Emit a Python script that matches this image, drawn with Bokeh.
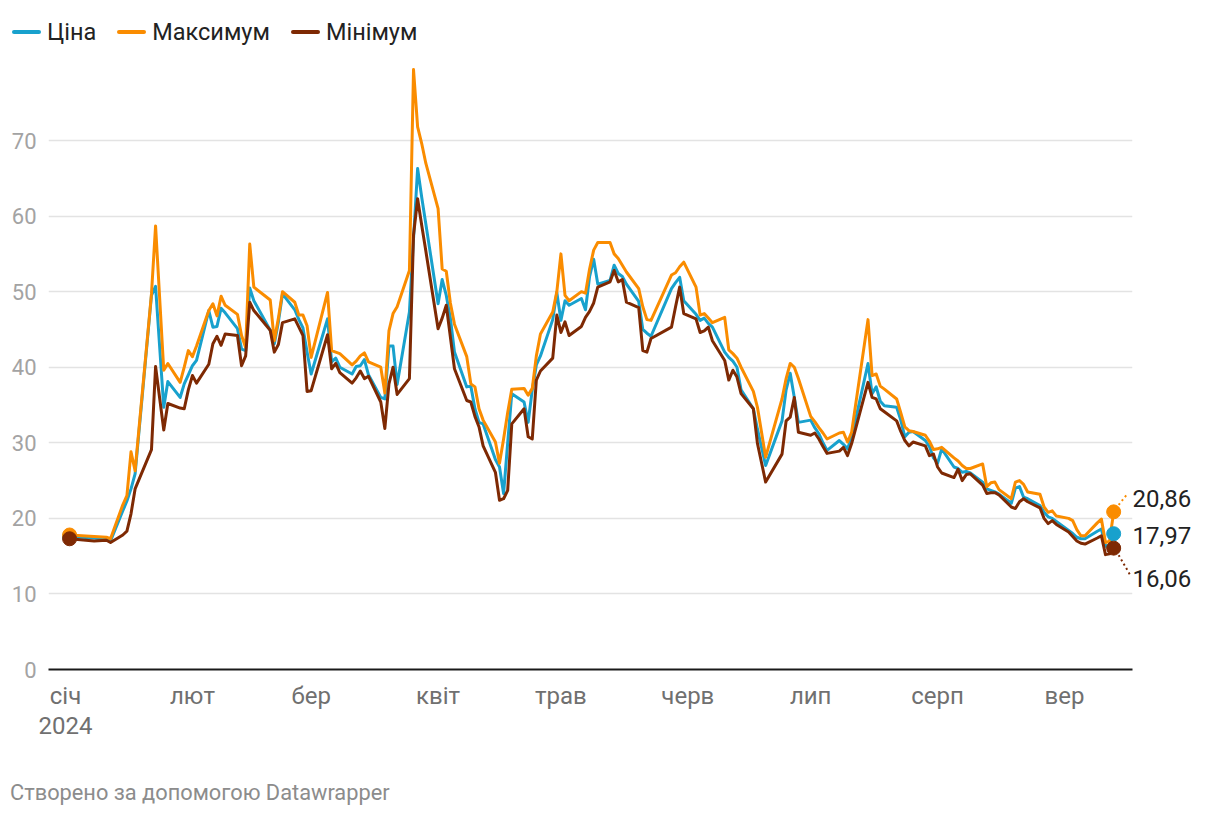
import pandas as pd
from bokeh.plotting import figure
from bokeh.layouts import column
from bokeh.models import (Range1d, FixedTicker, LinearAxis, ColumnDataSource, Div)
from bokeh.embed import file_html
from bokeh.resources import INLINE

# ---------------- data ----------------
dates = [
    "2024-01-02", "2024-01-08", "2024-01-11", "2024-01-12", "2024-01-15", "2024-01-16",
    "2024-01-17", "2024-01-18", "2024-01-22", "2024-01-23", "2024-01-25", "2024-01-26",
    "2024-01-29", "2024-01-30", "2024-01-31", "2024-02-01", "2024-02-02", "2024-02-05",
    "2024-02-06", "2024-02-07", "2024-02-08", "2024-02-09", "2024-02-12", "2024-02-13",
    "2024-02-14", "2024-02-15", "2024-02-16", "2024-02-20", "2024-02-21", "2024-02-22",
    "2024-02-23", "2024-02-26", "2024-02-27", "2024-02-28", "2024-02-29", "2024-03-01",
    "2024-03-05", "2024-03-06", "2024-03-07", "2024-03-08", "2024-03-11", "2024-03-12",
    "2024-03-13", "2024-03-14", "2024-03-15", "2024-03-18", "2024-03-19", "2024-03-20",
    "2024-03-21", "2024-03-22", "2024-03-25", "2024-03-26", "2024-03-27", "2024-03-28",
    "2024-03-29", "2024-04-01", "2024-04-02", "2024-04-03", "2024-04-04", "2024-04-05",
    "2024-04-08", "2024-04-09", "2024-04-10", "2024-04-11", "2024-04-12", "2024-04-15",
    "2024-04-16", "2024-04-17", "2024-04-18", "2024-04-19", "2024-04-22", "2024-04-23",
    "2024-04-24", "2024-04-25", "2024-04-26", "2024-04-29", "2024-04-30", "2024-05-01",
    "2024-05-02", "2024-05-03", "2024-05-06", "2024-05-07", "2024-05-08", "2024-05-09",
    "2024-05-10", "2024-05-13", "2024-05-14", "2024-05-15", "2024-05-16", "2024-05-17",
    "2024-05-20", "2024-05-21", "2024-05-22", "2024-05-23", "2024-05-28", "2024-05-29",
    "2024-05-30", "2024-05-31", "2024-06-03", "2024-06-04", "2024-06-05", "2024-06-06",
    "2024-06-07", "2024-06-10", "2024-06-11", "2024-06-12", "2024-06-13", "2024-06-14",
    "2024-06-17", "2024-06-18", "2024-06-20", "2024-06-24", "2024-06-25", "2024-06-26",
    "2024-06-27", "2024-06-28", "2024-07-01", "2024-07-02", "2024-07-03", "2024-07-04",
    "2024-07-05", "2024-07-08", "2024-07-09", "2024-07-10", "2024-07-11", "2024-07-15",
    "2024-07-16", "2024-07-17", "2024-07-18", "2024-07-19", "2024-07-22", "2024-07-23",
    "2024-07-24", "2024-07-25", "2024-07-26", "2024-07-29", "2024-07-30", "2024-07-31",
    "2024-08-01", "2024-08-02", "2024-08-05", "2024-08-06", "2024-08-07", "2024-08-08",
    "2024-08-09", "2024-08-12", "2024-08-13", "2024-08-14", "2024-08-15", "2024-08-16",
    "2024-08-19", "2024-08-20", "2024-08-21", "2024-08-22", "2024-08-23", "2024-08-26",
    "2024-08-27", "2024-08-28", "2024-08-29", "2024-08-30", "2024-09-02", "2024-09-03",
    "2024-09-04", "2024-09-05", "2024-09-06", "2024-09-09", "2024-09-10", "2024-09-11",
    "2024-09-12", "2024-09-13",
]

maximum = [
    17.8, 17.6, 17.5, 17.3, 21.8, 23.0, 28.8, 26.3, 49.7, 58.7, 39.6, 40.5,
    38.0, 40.0, 42.2, 41.4, 42.8, 47.5, 48.4, 46.8, 49.4, 48.2, 47.0, 44.2,
    42.6, 56.3, 50.6, 48.9, 43.5, 46.5, 50.0, 48.6, 46.9, 46.9, 45.5, 41.3,
    49.9, 42.2, 42.0, 41.8, 40.3, 40.8, 41.5, 41.9, 40.7, 40.0, 36.6, 44.8,
    47.1, 48.0, 52.8, 79.4, 71.8, 69.6, 67.0, 61.0, 53.0, 52.7, 48.5, 45.7,
    41.4, 37.8, 37.4, 34.5, 33.0, 30.1, 27.3, 30.5, 34.0, 37.1, 37.2, 36.3,
    37.2, 41.5, 44.4, 47.3, 50.0, 55.0, 49.5, 48.8, 50.0, 49.8, 53.0, 55.5,
    56.5, 56.5, 55.0, 54.4, 53.5, 52.6, 50.4, 48.0, 46.3, 46.2, 52.2, 52.5,
    53.3, 53.9, 50.6, 46.9, 47.1, 46.5, 45.9, 46.6, 42.3, 41.8, 41.2, 40.0,
    36.8, 34.7, 28.1, 35.8, 38.5, 40.5, 40.0, 38.5, 33.5, 32.8, 32.0, 31.3,
    30.5, 31.3, 31.4, 30.1, 31.4, 46.3, 38.9, 39.1, 37.5, 37.1, 35.8, 34.0,
    32.1, 31.6, 31.5, 31.0, 30.2, 29.1, 29.2, 29.4, 28.0, 27.6, 27.0, 26.6,
    26.6, 27.2, 24.2, 24.7, 24.8, 23.8, 22.6, 24.8, 25.0, 24.5, 23.5, 23.2,
    21.5, 20.8, 21.0, 20.3, 20.0, 19.7, 18.5, 17.7, 17.7, 19.4, 19.9, 16.8,
    17.0, 20.86,
]

price = [
    17.6, 17.4, 17.2, 17.0, 21.0, 22.3, 23.9, 25.9, 49.5, 50.7, 34.7, 38.1,
    36.0, 37.8, 39.0, 40.2, 40.9, 47.5, 45.3, 45.4, 47.8, 47.2, 45.1, 42.4,
    42.2, 50.5, 48.8, 44.9, 43.1, 46.0, 49.7, 47.6, 46.3, 45.2, 42.0, 39.1,
    46.4, 40.7, 41.2, 40.0, 39.1, 40.1, 40.2, 41.0, 39.0, 36.0, 35.8, 42.8,
    42.8, 37.7, 47.3, 57.0, 66.3, 62.5, 59.0, 48.4, 51.6, 49.5, 46.5, 42.0,
    37.4, 37.5, 34.5, 32.7, 32.5, 27.8, 26.8, 23.3, 30.0, 36.5, 35.4, 32.7,
    37.0, 40.3, 41.5, 46.3, 49.9, 46.2, 48.8, 48.2, 49.1, 47.6, 52.0, 54.3,
    51.0, 51.5, 53.5, 52.4, 52.0, 51.0, 48.7, 45.0, 44.5, 44.1, 50.4, 51.2,
    51.9, 48.8, 47.0, 46.2, 46.5, 45.8, 45.3, 42.0, 41.3, 40.8, 40.0, 37.0,
    34.5, 31.8, 27.0, 32.9, 37.0, 39.2, 36.0, 32.7, 33.0, 32.0, 31.2, 30.0,
    29.0, 30.3, 29.8, 29.2, 30.7, 40.5, 36.5, 37.4, 35.5, 34.9, 34.7, 33.0,
    30.8, 31.4, 31.5, 30.3, 29.5, 28.0, 27.3, 29.2, 26.8, 26.6, 26.1, 26.2,
    26.0, 24.8, 23.9, 23.7, 23.5, 23.2, 22.0, 24.0, 24.2, 22.8, 22.6, 21.7,
    20.8, 20.2, 20.0, 19.6, 18.4, 18.0, 17.5, 17.3, 17.3, 18.3, 18.6, 16.3,
    16.4, 17.97,
]

minimum = [
    17.3, 17.0, 17.1, 16.8, 17.8, 18.3, 20.6, 23.9, 29.1, 40.1, 31.7, 35.2,
    34.6, 34.5, 37.0, 38.9, 37.9, 40.4, 43.1, 44.1, 42.9, 44.4, 44.2, 40.2,
    41.5, 48.6, 47.5, 44.9, 42.0, 43.0, 45.9, 46.4, 45.3, 44.2, 36.8, 36.9,
    44.3, 39.8, 40.5, 39.3, 37.9, 38.6, 39.5, 38.5, 38.8, 35.4, 31.9, 37.8,
    40.0, 36.4, 38.5, 57.5, 62.3, 58.8, 55.4, 45.1, 46.5, 48.2, 44.0, 39.8,
    35.6, 35.4, 33.5, 32.1, 29.6, 26.1, 22.4, 22.6, 23.7, 32.5, 34.5, 30.8,
    30.5, 38.3, 39.5, 41.2, 46.9, 44.6, 46.0, 44.2, 45.4, 46.6, 47.4, 48.5,
    50.6, 51.3, 52.8, 51.3, 51.6, 48.6, 47.9, 42.2, 42.0, 43.8, 45.3, 48.0,
    50.6, 47.1, 46.4, 44.6, 44.8, 45.3, 43.5, 40.9, 38.3, 39.6, 38.7, 36.5,
    34.5, 29.9, 24.8, 28.5, 32.9, 33.4, 36.0, 31.4, 31.0, 31.3, 30.5, 29.5,
    28.6, 28.9, 29.4, 28.3, 29.9, 38.0, 36.0, 35.8, 34.5, 34.1, 32.9, 31.5,
    30.3, 29.6, 30.1, 29.6, 28.3, 28.5, 26.8, 26.0, 25.4, 26.5, 25.0, 25.8,
    25.9, 24.4, 23.3, 23.4, 23.4, 23.1, 21.5, 21.3, 22.2, 22.6, 22.2, 21.4,
    20.0, 19.3, 19.7, 19.2, 18.2, 17.6, 17.0, 16.7, 16.6, 17.4, 17.7, 15.2,
    15.3, 16.06,
]

series_names = ["Ціна", "Максимум", "Мінімум"]
series_colors = ["#18a1cd", "#fa8c00", "#7e2903"]
month_ticks = ["2024-01-01", "2024-02-01", "2024-03-01", "2024-04-01", "2024-05-01",
               "2024-06-01", "2024-07-01", "2024-08-01", "2024-09-01"]
month_labels = ["січ\n2024", "лют", "бер", "квіт", "трав", "черв", "лип", "серп", "вер"]
y_ticks = [0, 10, 20, 30, 40, 50, 60, 70]
footer_text = "Створено за допомогою Datawrapper"

FONT = "Roboto"
W = 1200
LEG_H = 60
MAIN_H = 700
FOOT_H = 50

# ---------------- legend strip ----------------
legend_html = "".join(
    f'<span style="display:inline-block;width:29px;height:4px;border-radius:2px;'
    f'background:{c};margin-right:6px;vertical-align:middle"></span>'
    f'<span style="margin-right:21px;vertical-align:middle">{n}</span>'
    for n, c in zip(series_names, series_colors))
legend_div = Div(
    text=(f'<div style="font-family:{FONT};font-size:23.5px;color:#222222;'
          f'height:{LEG_H}px;line-height:{LEG_H}px;padding-left:12px;white-space:nowrap">'
          f'{legend_html}</div>'),
    width=W, height=LEG_H, margin=(0, 0, 0, 0))

# ---------------- main chart ----------------
x = pd.to_datetime(dates)
src = ColumnDataSource(dict(x=x, price=price, maximum=maximum, minimum=minimum))

t0 = pd.Timestamp("2024-01-01")
px_per_day = 4.094
px_per_unit = 7.557

p = figure(width=W, height=MAIN_H, x_axis_type="datetime",
           output_backend="svg", toolbar_location=None,
           min_border_left=48, min_border_right=68,
           min_border_top=0, min_border_bottom=91,
           x_range=Range1d(t0 - pd.Timedelta(days=4.15), t0 + pd.Timedelta(days=260.6)),
           y_range=Range1d(0, 80.59), margin=(0, 0, 0, 0))
p.outline_line_color = None
p.background_fill_color = "white"
p.border_fill_color = "white"

p.xgrid.visible = False
p.ygrid.grid_line_color = "#e3e3e3"
p.ygrid.grid_line_width = 1.5

p.yaxis.ticker = FixedTicker(ticks=y_ticks, minor_ticks=[])
p.yaxis.axis_line_color = None
p.yaxis.major_tick_line_color = None
p.yaxis.minor_tick_line_color = None
p.yaxis.major_tick_out = 0
p.yaxis.major_label_standoff = 12
p.yaxis.major_label_text_font = FONT
p.yaxis.major_label_text_font_size = "22px"
p.yaxis.major_label_text_color = "#a3a3a3"

tick_ms = [pd.Timestamp(d).value / 1e6 for d in month_ticks]
p.xaxis.ticker = FixedTicker(ticks=tick_ms, minor_ticks=[])
p.xaxis.major_label_overrides = {t: lab for t, lab in zip(tick_ms, month_labels)}
p.xaxis.axis_line_color = "#1a1a1a"
p.xaxis.axis_line_width = 2
p.xaxis.major_tick_line_color = None
p.xaxis.minor_tick_line_color = None
p.xaxis.major_label_standoff = 6
p.xaxis.major_label_text_font = FONT
p.xaxis.major_label_text_font_size = "24px"
p.xaxis.major_label_text_color = "#707070"
p.xaxis.major_label_text_line_height = 1.1

for col, color in zip(["price", "maximum", "minimum"], series_colors):
    p.line("x", col, source=src, line_color=color, line_width=3,
           line_join="round", line_cap="round")

for vals, color in zip([price, maximum, minimum], series_colors):
    p.scatter([x[0]], [vals[0]], size=14, fill_color=color, line_color=color)
for vals, color in zip([price, maximum, minimum], series_colors):
    p.scatter([x[-1]], [vals[-1]], size=14, fill_color=color, line_color=color)

# leader lines to end labels (pixel offsets converted through the scales)
def off(px_x, px_y, vals):
    return (x[-1] + pd.Timedelta(days=px_x / px_per_day), vals[-1] + px_y / px_per_unit)

for vals, color, (a, b) in [(maximum, series_colors[1], ((5, 7), (13, 17))),
                            (minimum, series_colors[2], ((5, -7), (16, -26)))]:
    xa, ya = off(a[0], a[1], vals)
    xb, yb = off(b[0], b[1], vals)
    p.line([xa, xb], [ya, yb], line_color=color, line_width=2, line_dash="2 3")

# end value labels as a right-hand axis
end_vals = [maximum[-1], price[-1], minimum[-1]]
end_shift_px = [13, -2, -30]
end_pos = [round(v + s / px_per_unit, 2) for v, s in zip(end_vals, end_shift_px)]
end_axis = LinearAxis(ticker=FixedTicker(ticks=end_pos, minor_ticks=[]),
                      major_label_overrides={pos: f"{v:.2f}".replace(".", ",")
                                             for pos, v in zip(end_pos, end_vals)})
end_axis.axis_line_color = None
end_axis.major_tick_line_color = None
end_axis.minor_tick_line_color = None
end_axis.major_tick_out = 0
end_axis.major_tick_in = 0
end_axis.major_label_standoff = 0
end_axis.major_label_text_font = FONT
end_axis.major_label_text_font_size = "24px"
end_axis.major_label_text_color = "#222222"
p.add_layout(end_axis, "right")

# ---------------- footer ----------------
footer_div = Div(
    text=(f'<div style="font-family:{FONT};font-size:21.8px;color:#8c8c8c;'
          f'padding-left:10px;padding-top:20px;line-height:26px;white-space:nowrap">'
          f'{footer_text}</div>'),
    width=W, height=FOOT_H, margin=(0, 0, 0, 0))

open("out.html", "w").write(file_html(column(legend_div, p, footer_div, spacing=0), INLINE))
